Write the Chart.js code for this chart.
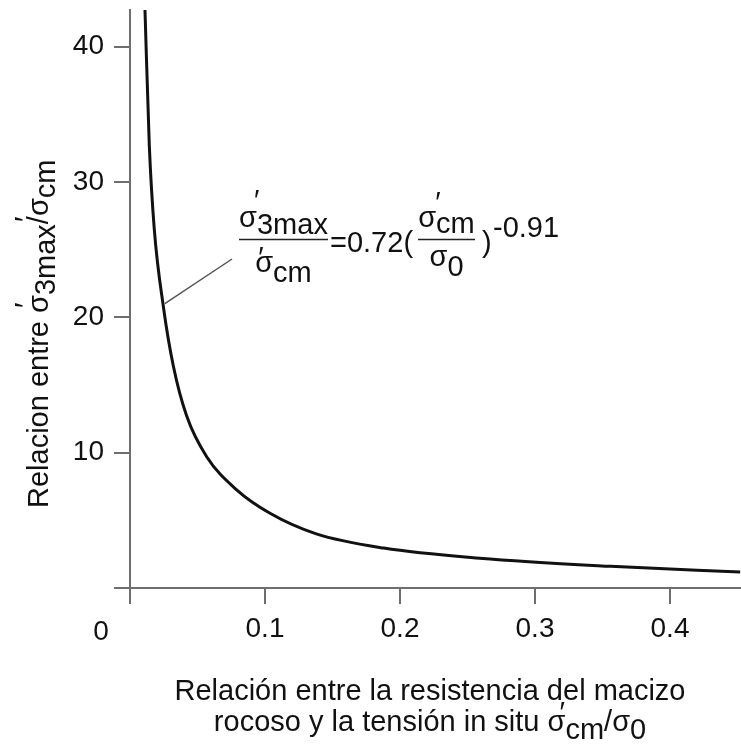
<!DOCTYPE html>
<html>
<head>
<meta charset="utf-8">
<script src="https://cdn.jsdelivr.net/npm/chart.js@4/dist/chart.umd.min.js"></script>
<style>
   html, body { margin: 0; padding: 0; background: #fff; }
   #wrap { width: 741px; height: 747px; position: relative; }
</style>
</head>
<body>
<div id="wrap"><canvas id="chart"></canvas></div>
<script>
'use strict';

// curve: ratio sigma_cm / sigma_0 against sigma_3max / sigma_cm
const ratioX = [0.0111, 0.0143, 0.018, 0.0247, 0.0321, 0.042, 0.0568, 0.079, 0.1037, 0.138, 0.188, 0.259, 0.356, 0.452];
const ratioY = [42.7, 32.7, 26.5, 20.8, 16.4, 12.7, 9.7, 7.25, 5.52, 4.0, 2.95, 2.2, 1.6, 1.18];

const xTicks = [0.1, 0.2, 0.3, 0.4];
const yTicks = [10, 20, 30, 40];

const FONT = '"Liberation Sans", Arial, sans-serif';
const AXIS_GREY = '#6e6e6e';
const PRIME = '\u2032';

function getSeries(xValues, yValues) {
   const result = [];
   for (let i = 0; i < xValues.length; i++) {
      result.push({ x: xValues[i], y: yValues[i] });
   }
   return result;
}

// draws a run of text pieces; a piece may be shifted down (dy) and carry a prime
// prime: { dx: offset from the piece start, top: height of the prime's top above the baseline }
function drawRich(ctx, parts, x, y, align) {
   let total = 0;
   parts.forEach(p => { total += ctx.measureText(p.t).width; });
   let cx = align === 'center' ? x - total / 2 : x;
   const primeAscent = ctx.measureText(PRIME).actualBoundingBoxAscent;
   parts.forEach(p => {
      const w = ctx.measureText(p.t).width;
      ctx.fillText(p.t, cx, y + (p.dy || 0));
      if (p.prime) {
         ctx.fillText(PRIME, cx + p.prime.dx, y - p.prime.top + primeAscent);
      }
      cx += w;
   });
}

const textPlugin = {
   id: 'textPlugin',
   afterDraw(chart) {
      const ctx = chart.ctx;
      const xs = chart.scales.x;
      const ys = chart.scales.y;
      const ox = chart.chartArea.left - 130;
      const oy = chart.chartArea.top - 10;
      ctx.save();
      ctx.fillStyle = '#111';
      ctx.textBaseline = 'alphabetic';

      // shared zero at the corner
      ctx.font = '28px ' + FONT;
      ctx.textAlign = 'center';
      ctx.fillText('0', xs.getPixelForValue(0) - 29, chart.chartArea.bottom + 52);
      ctx.textAlign = 'left';

      ctx.font = '29px ' + FONT;

      // y axis title
      ctx.save();
      ctx.translate(48, 508);
      ctx.rotate(-Math.PI / 2);
      drawRich(ctx, [
         { t: 'Relacion entre ' },
         { t: '\u03c3', prime: { dx: 5, top: 33 } },
         { t: '3max', dy: 7 },
         { t: '/' },
         { t: '\u03c3', prime: { dx: -6, top: 33 } },
         { t: 'cm', dy: 7 }
      ], 0, 0, 'left');
      ctx.restore();

      // x axis title
      drawRich(ctx, [{ t: 'Relación entre la resistencia del macizo' }], 430, 700, 'center');
      drawRich(ctx, [
         { t: 'rocoso y la tensión in situ ' },
         { t: '\u03c3', prime: { dx: 12, top: 29 } },
         { t: 'cm', dy: 8 },
         { t: '/\u03c3' },
         { t: '0', dy: 8 }
      ], 430, 731, 'center');

      // leader line
      ctx.strokeStyle = '#555';
      ctx.lineWidth = 1.5;
      ctx.beginPath();
      ctx.moveTo(xs.getPixelForValue(0.0258), ys.getPixelForValue(21.0));
      ctx.lineTo(232 + ox, 259 + oy);
      ctx.stroke();

      // equation
      ctx.strokeStyle = '#222';
      ctx.lineWidth = 1.5;
      ctx.beginPath();
      ctx.moveTo(239 + ox, 239.5 + oy);
      ctx.lineTo(328 + ox, 239.5 + oy);
      ctx.moveTo(418 + ox, 239.5 + oy);
      ctx.lineTo(475 + ox, 239.5 + oy);
      ctx.stroke();

      drawRich(ctx, [{ t: '\u03c3', prime: { dx: 15, top: 37 } }, { t: '3max', dy: 7 }], 283.5 + ox, 227 + oy, 'center');
      drawRich(ctx, [{ t: '\u03c3', prime: { dx: 3, top: 25 } }, { t: 'cm', dy: 10 }], 283.5 + ox, 272 + oy, 'center');
      drawRich(ctx, [{ t: '=0.72(' }], 330 + ox, 252 + oy, 'left');
      drawRich(ctx, [{ t: '\u03c3', prime: { dx: 17, top: 35 } }, { t: 'cm', dy: 6 }], 446.5 + ox, 227 + oy, 'center');
      drawRich(ctx, [{ t: '\u03c3' }, { t: '0', dy: 10 }], 446.5 + ox, 266 + oy, 'center');
      drawRich(ctx, [{ t: ')' }], 482 + ox, 252 + oy, 'left');
      drawRich(ctx, [{ t: '-0.91' }], 493 + ox, 237 + oy, 'left');

      ctx.restore();
   }
};

const config = {
   type: 'scatter',
   data: {
      datasets: [{
         data: getSeries(ratioX, ratioY),
         showLine: true,
         cubicInterpolationMode: 'monotone',
         borderColor: '#111',
         borderWidth: 3,
         pointRadius: 0,
         pointHoverRadius: 0,
         fill: false
      }]
   },
   options: {
      responsive: true,
      maintainAspectRatio: false,
      animation: false,
      layout: { padding: { top: 10, right: 0, bottom: 0, left: 0 } },
      plugins: {
         legend: { display: false },
         tooltip: { enabled: false },
         title: { display: false }
      },
      scales: {
         x: {
            type: 'linear',
            min: 0,
            max: 0.4526,
            afterBuildTicks: scale => {
               scale.ticks = [0].concat(xTicks).map(v => ({ value: v }));
            },
            afterFit: scale => {
               scale.height = 159;
               scale.paddingLeft = 0;
               scale.paddingRight = 0;
            },
            ticks: {
               color: '#111',
               font: { size: 28, family: FONT },
               padding: 8,
               maxRotation: 0,
               autoSkip: false,
               callback: v => (v === 0 ? '' : v.toFixed(1))
            },
            grid: {
               display: true,
               drawOnChartArea: false,
               drawTicks: true,
               tickLength: 16,
               color: AXIS_GREY,
               lineWidth: 2
            },
            border: { display: true, color: AXIS_GREY, width: 2 }
         },
         y: {
            type: 'linear',
            min: 0,
            max: 42.7,
            afterBuildTicks: scale => {
               scale.ticks = [0].concat(yTicks).map(v => ({ value: v }));
            },
            afterFit: scale => {
               scale.width = 130;
               scale.paddingTop = 0;
               scale.paddingBottom = 0;
            },
            ticks: {
               color: '#111',
               font: { size: 28, family: FONT },
               padding: 10,
               autoSkip: false,
               callback: v => (v === 0 ? '' : String(v))
            },
            grid: {
               display: true,
               drawOnChartArea: false,
               drawTicks: true,
               tickLength: 16,
               color: AXIS_GREY,
               lineWidth: 2
            },
            border: { display: true, color: AXIS_GREY, width: 2 }
         }
      }
   },
   plugins: [textPlugin]
};

new Chart(document.getElementById('chart'), config);
</script>
</body>
</html>
